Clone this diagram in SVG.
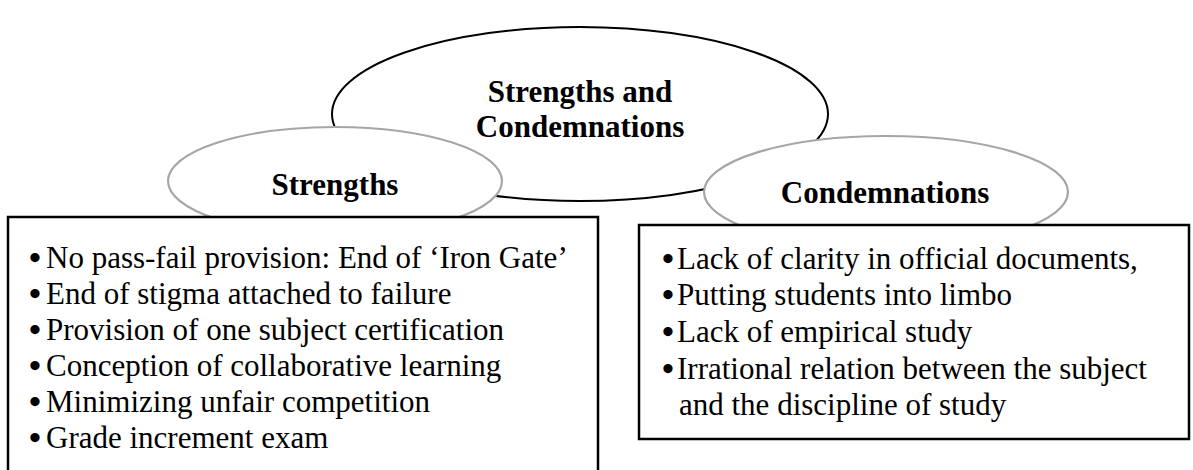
<svg xmlns="http://www.w3.org/2000/svg" width="1193" height="470" viewBox="0 0 1193 470">
<style>
.big{fill:#fff;stroke:#000;stroke-width:2}
.sub{fill:#fff;stroke:#a6a6a6;stroke-width:2.2}
.box{fill:#fff;stroke:#000;stroke-width:2.5}
.t{font-family:"Liberation Serif","Times New Roman",serif;font-size:31px;fill:#000}
.b{font-weight:bold}
.bl{font-family:"Liberation Serif","Times New Roman",serif;font-size:34px;font-weight:bold;fill:#000}
</style>
<rect width="1193" height="470" fill="#fff"/>
<g id="main">
<ellipse class="big" cx="580" cy="114" rx="248" ry="87"/>
<text class="t b" x="580" y="102" text-anchor="middle">Strengths and</text>
<text class="t b" x="580" y="137" text-anchor="middle">Condemnations</text>
</g>
<g id="strengths">
<ellipse class="sub" cx="335" cy="181" rx="167" ry="54"/>
<text class="t b" x="335" y="195" text-anchor="middle">Strengths</text>
</g>
<g id="condemnations">
<ellipse class="sub" cx="886" cy="192" rx="182" ry="56"/>
<text class="t b" x="885" y="203" text-anchor="middle">Condemnations</text>
</g>
<g id="strengths-box">
<rect class="box" x="8" y="217" width="590" height="270"/>
<g class="bl">
<text x="29" y="269">•</text>
<text x="29" y="305">•</text>
<text x="29" y="341">•</text>
<text x="29" y="377">•</text>
<text x="29" y="413">•</text>
<text x="29" y="449">•</text>
</g>
<g class="t">
<text x="46" y="268">No pass-fail provision: End of ‘Iron Gate’</text>
<text x="46" y="304">End of stigma attached to failure</text>
<text x="46" y="340">Provision of one subject certification</text>
<text x="46" y="376">Conception of collaborative learning</text>
<text x="46" y="412">Minimizing unfair competition</text>
<text x="46" y="448">Grade increment exam</text>
</g>
</g>
<g id="condemnations-box">
<rect class="box" x="639" y="225" width="550" height="214"/>
<g class="bl">
<text x="662" y="270">•</text>
<text x="662" y="306">•</text>
<text x="662" y="343">•</text>
<text x="662" y="380">•</text>
</g>
<g class="t">
<text x="677" y="269">Lack of clarity in official documents,</text>
<text x="677" y="305">Putting students into limbo</text>
<text x="677" y="342">Lack of empirical study</text>
<text x="677" y="379">Irrational relation between the subject</text>
<text x="679" y="415">and the discipline of study</text>
</g>
</g>
<g id="connectors"></g>
</svg>
